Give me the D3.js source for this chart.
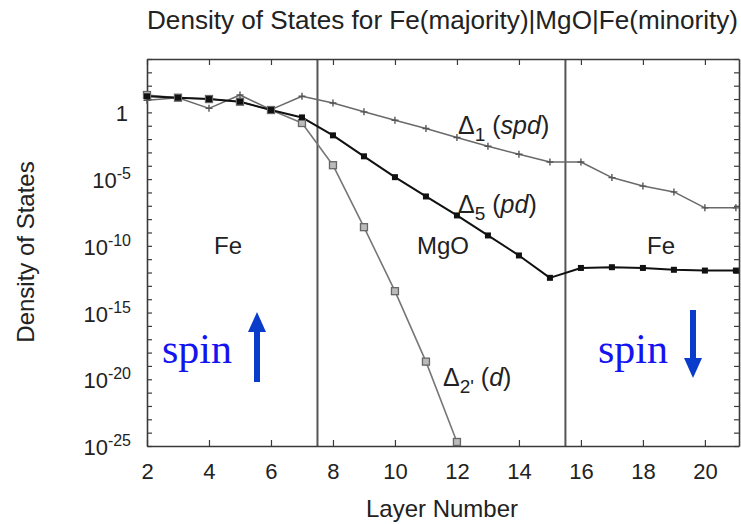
<!DOCTYPE html>
<html>
<head>
<meta charset="utf-8">
<script src="https://d3js.org/d3.v7.min.js"></script>
<style>
  body { margin: 0; background: #fff; }
  text { font-family: "Liberation Sans", Arial, Helvetica, sans-serif; fill: #222; }
  .spin { font-family: "Liberation Serif", "Times New Roman", serif; fill: #1414f0; }
</style>
</head>
<body>
<div id="chart"></div>
<script>
// layers on the x axis
var layers = [2, 3, 4, 5, 6, 7, 8, 9, 10, 11, 12, 13, 14, 15, 16, 17, 18, 19, 20, 21];

// density of states per layer
var delta1 = [8, 12.6, 2, 20, 1.6, 16, 5.1, 1.1, 0.26, 0.062, 0.013, 2.9e-3, 7.2e-4,
              1.9e-4, 1.9e-4, 1.3e-5, 3.0e-6, 1.1e-6, 7e-8, 7e-8];
var delta5 = [16, 12.6, 10, 6.3, 1.5, 0.42, 0.019, 5.1e-4, 1.4e-5, 5.0e-7, 1.9e-8, 6.0e-10,
              1.9e-11, 4.0e-13, 2.2e-12, 2.5e-12, 2.2e-12, 1.6e-12, 1.4e-12, 1.4e-12];
var delta2 = [20, 12.6, 10, 6.3, 1.5, 0.16, 1.1e-4, 2.5e-9, 4.0e-14, 2.1e-19, 2.0e-25];

var xTicks = [2, 4, 6, 8, 10, 12, 14, 16, 18, 20];
var yTicks = [1, 1e-5, 1e-10, 1e-15, 1e-20, 1e-25];
var tickExp = ["", "-5", "-10", "-15", "-20", "-25"];
var interfaces = [7.5, 15.5];

var W = 741, H = 524;
var margin = { top: 59, left: 147, right: 2, bottom: 78 };

var svg = d3.select("#chart").append("svg")
    .attr("width", W)
    .attr("height", H);

var x = d3.scaleLinear()
    .domain([2, 21.1])
    .range([margin.left, W - margin.right]);

var y = d3.scaleLog()
    .domain([1e-25, 1e4])
    .range([H - margin.bottom, margin.top]);

var frameCol = "#3a3a3a";

// interface lines
svg.append("g").selectAll("line")
    .data(interfaces)
    .enter()
    .append("line")
    .attr("x1", d => x(d)).attr("x2", d => x(d))
    .attr("y1", y(1e4)).attr("y2", y(1e-25))
    .attr("stroke", "#555")
    .attr("stroke-width", 2);

// x axes (bottom and mirrored top), ticks inward
var xb = svg.append("g")
    .attr("transform", "translate(0," + y(1e-25) + ")")
    .call(d3.axisBottom(x).tickValues(xTicks).tickSizeInner(-6).tickSizeOuter(0).tickPadding(17));
var xt = svg.append("g")
    .attr("transform", "translate(0," + y(1e4) + ")")
    .call(d3.axisTop(x).tickValues(xTicks).tickSizeInner(-6).tickSizeOuter(0).tickFormat(""));

// y axes, minor tick every decade
var decades = d3.range(-25, 5).map(e => Math.pow(10, e));
var yl = svg.append("g")
    .attr("transform", "translate(" + x(2) + ",0)")
    .call(d3.axisLeft(y).tickValues(decades).tickSizeInner(-5).tickSizeOuter(0).tickFormat(""));
var yr = svg.append("g")
    .attr("transform", "translate(" + x(21.1) + ",0)")
    .call(d3.axisRight(y).tickValues(decades).tickSizeInner(-5).tickSizeOuter(0).tickFormat(""));

[xb, xt, yl, yr].forEach(function(a) {
    a.selectAll("path").attr("stroke", frameCol).attr("stroke-width", 1.6);
    a.selectAll("line").attr("stroke", frameCol).attr("stroke-width", 1.2);
});
xb.selectAll("text").attr("font-size", 22).attr("fill", "#222")
    .style("font-family", "Liberation Sans, Arial, sans-serif");

// y tick labels 10^n
var yLab = svg.append("g").selectAll("text")
    .data(yTicks)
    .enter()
    .append("text")
    .attr("x", 131)
    .attr("y", d => y(d) + 9)
    .attr("text-anchor", "end")
    .attr("font-size", 22);
yLab.each(function(d, i) {
    var t = d3.select(this);
    if (i == 0) {
        t.attr("x", 128).text("1");
    } else {
        t.append("tspan").text("10");
        t.append("tspan").attr("font-size", 16).attr("dy", -9).text(tickExp[i]);
    }
});

// series lines
var line = d3.line()
    .x((d, i) => x(layers[i]))
    .y(d => y(d));

function addLine(vals, col, w) {
    svg.append("path")
        .datum(vals)
        .attr("fill", "none")
        .attr("stroke", col)
        .attr("stroke-width", w)
        .attr("stroke-linejoin", "round")
        .attr("d", line);
}

addLine(delta1, "#6a6a6a", 1.5);
addLine(delta2, "#777", 1.6);
addLine(delta5, "#111", 2);

// markers
svg.append("g").selectAll("path")
    .data(delta1)
    .enter()
    .append("path")
    .attr("d", (d, i) => {
        var cx = x(layers[i]), cy = y(d);
        return "M" + (cx - 3.5) + "," + cy + "H" + (cx + 3.5) + "M" + cx + "," + (cy - 3.5) + "V" + (cy + 3.5);
    })
    .attr("stroke", "#555")
    .attr("stroke-width", 1.4);

svg.append("g").selectAll("rect")
    .data(delta2)
    .enter()
    .append("rect")
    .attr("x", (d, i) => x(layers[i]) - 3.5)
    .attr("y", d => y(d) - 3.5)
    .attr("width", 7).attr("height", 7)
    .attr("fill", "#bbb")
    .attr("stroke", "#666")
    .attr("stroke-width", 1.3);

svg.append("g").selectAll("rect")
    .data(delta5)
    .enter()
    .append("rect")
    .attr("x", (d, i) => x(layers[i]) - 3)
    .attr("y", d => y(d) - 3)
    .attr("width", 6).attr("height", 6)
    .attr("fill", "#111");

// series labels
function deltaLabel(px, py, sub, paren) {
    var t = svg.append("text").attr("x", px).attr("y", py).attr("font-size", 25);
    t.append("tspan").text("\u0394");
    t.append("tspan").attr("font-size", 19).attr("dy", 7).text(sub);
    t.append("tspan").attr("dy", -7).text(" (");
    t.append("tspan").attr("font-style", "italic").text(paren);
    t.append("tspan").text(")");
}
deltaLabel(458, 134, "1", "spd");
deltaLabel(458, 213, "5", "pd");
deltaLabel(443, 386, "2'", "d");

// region labels
svg.append("text").attr("x", 228).attr("y", 254).attr("font-size", 24)
    .attr("text-anchor", "middle").text("Fe");
svg.append("text").attr("x", 443).attr("y", 254).attr("font-size", 24)
    .attr("text-anchor", "middle").text("MgO");
svg.append("text").attr("x", 661).attr("y", 254).attr("font-size", 24)
    .attr("text-anchor", "middle").text("Fe");

// spin notes
svg.append("text").attr("class", "spin").attr("x", 162).attr("y", 363)
    .attr("font-size", 42).text("spin");
svg.append("text").attr("class", "spin").attr("x", 598).attr("y", 363)
    .attr("font-size", 42).text("spin");

var arrowCol = "#0a3ccc";
function arrow(cx, yTail, yTip) {
    var dir = yTip < yTail ? 1 : -1;
    var yBase = yTip + dir * 20;
    svg.append("line")
        .attr("x1", cx).attr("x2", cx)
        .attr("y1", yTail).attr("y2", yBase)
        .attr("stroke", arrowCol).attr("stroke-width", 6);
    svg.append("path")
        .attr("d", "M" + (cx - 9) + "," + yBase + "L" + cx + "," + yTip + "L" + (cx + 9) + "," + yBase + "Z")
        .attr("fill", arrowCol);
}
arrow(257, 382, 312);
arrow(693, 310, 378);

// titles
svg.append("text").attr("x", 147).attr("y", 29).attr("font-size", 26)
    .attr("textLength", 591).attr("lengthAdjust", "spacingAndGlyphs")
    .text("Density of States for Fe(majority)|MgO|Fe(minority)");
svg.append("text").attr("x", 442).attr("y", 517).attr("font-size", 24)
    .attr("text-anchor", "middle").text("Layer Number");
svg.append("text")
    .attr("transform", "translate(34,252) rotate(-90)")
    .attr("font-size", 24)
    .attr("text-anchor", "middle")
    .text("Density of States");
</script>
</body>
</html>
